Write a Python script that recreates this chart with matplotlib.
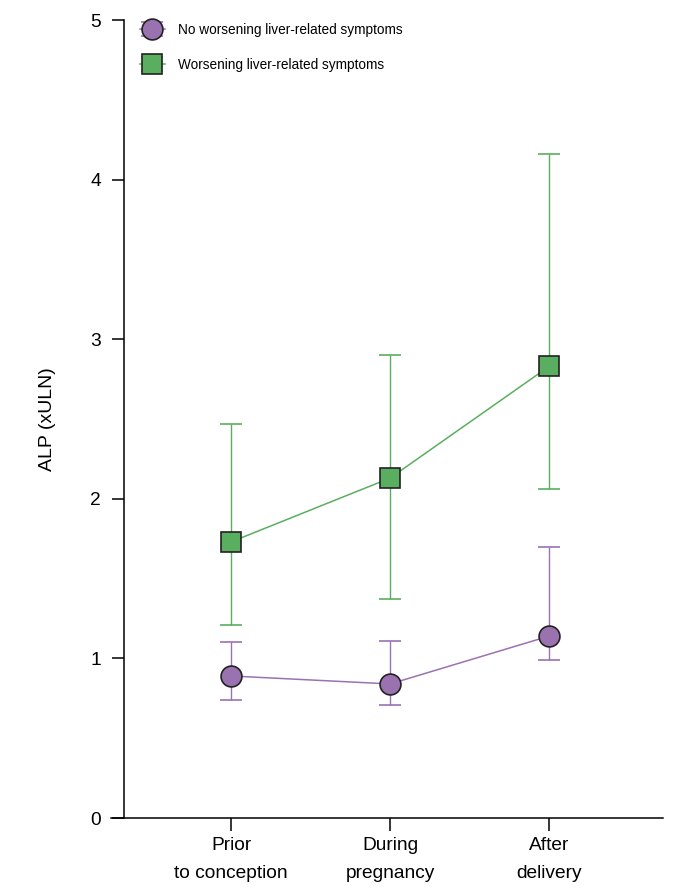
import matplotlib.pyplot as plt
import numpy as np

plt.rcParams['font.family'] = ['Liberation Sans', 'DejaVu Sans']

# data
periods = ['Prior\nto conception', 'During\npregnancy', 'After\ndelivery']
no_worse = [0.89, 0.84, 1.14]
no_worse_lo = [0.74, 0.71, 0.99]
no_worse_hi = [1.10, 1.11, 1.70]
worse = [1.73, 2.13, 2.83]
worse_lo = [1.21, 1.37, 2.06]
worse_hi = [2.47, 2.90, 4.16]

purple = '#9b72b0'
green = '#5aae60'

x = np.arange(len(periods))

fig = plt.figure(figsize=(6.92, 8.94), dpi=100)
ax = fig.add_axes([0.1604, 0.085, 0.798, 0.8926])

yerr_p = [np.array(no_worse) - np.array(no_worse_lo), np.array(no_worse_hi) - np.array(no_worse)]
yerr_g = [np.array(worse) - np.array(worse_lo), np.array(worse_hi) - np.array(worse)]

ax.errorbar(x, no_worse, yerr=yerr_p, color=purple, ecolor=purple, elinewidth=1.0,
            capsize=8, capthick=1.0, lw=1.1, marker='o', ms=15, mfc=purple,
            mec='#222222', mew=1.2, label='No worsening liver-related symptoms', zorder=3)
ax.errorbar(x, worse, yerr=yerr_g, color=green, ecolor=green, elinewidth=1.0,
            capsize=8, capthick=1.0, lw=1.1, marker='s', ms=15, mfc=green,
            mec='#222222', mew=1.2, label='Worsening liver-related symptoms', zorder=3)

ax.set_xlim(-0.755, 2.717)
ax.set_ylim(0, 5)
ax.spines['left'].set_position(('data', -0.673))
ax.spines['top'].set_visible(False)
ax.spines['right'].set_visible(False)
ax.spines['left'].set_linewidth(1.1)
ax.spines['bottom'].set_linewidth(1.1)

ax.set_xticks(x)
ax.set_xticklabels(periods, fontsize=13.8, linespacing=1.85)
ax.set_yticks(range(6))
ax.tick_params(axis='both', length=9, width=1.1, labelsize=13.8)
ax.tick_params(axis='y', pad=7.5)
ax.tick_params(axis='x', pad=4.5)
ax.set_ylabel('ALP (xULN)', fontsize=14, labelpad=24.5)

leg = ax.legend(loc='upper left', bbox_to_anchor=(0.0295, 1.012), frameon=False,
                fontsize=9.8, handlelength=1.9, handletextpad=0.95, labelspacing=1.55,
                numpoints=1)

fig.savefig('out.png', dpi=100)
